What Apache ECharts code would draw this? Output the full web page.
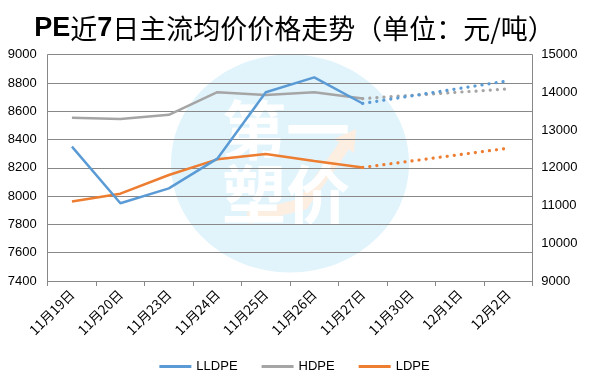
<!DOCTYPE html>
<html><head><meta charset="utf-8">
<script src="https://cdn.jsdelivr.net/npm/echarts@6/dist/echarts.min.js"></script>
<style>html,body{margin:0;padding:0;background:#fff}#c{width:589px;height:374px}</style>
</head><body><div id="c"></div>
<script>
var categories = ['11月19日','11月20日','11月23日','11月24日','11月25日','11月26日','11月27日','11月30日','12月1日','12月2日'];
var lldpe = [8350, 7950, 8055, 8265, 8735, 8840, 8655, null, null, null];
var hdpe  = [8555, 8545, 8575, 8735, 8715, 8735, 8690, null, null, null];
var ldpe  = [11110, 11315, 11810, 12225, 12365, 12180, 12010, null, null, null];
var lldpeTrend = [null, null, null, null, null, null, 8655, null, null, 8815];
var hdpeTrend  = [null, null, null, null, null, null, 8690, null, null, 8758];
var ldpeTrend  = [null, null, null, null, null, null, 12010, null, null, 12520];
var leftTicks = {min: 7400, max: 9000, interval: 200};
var rightTicks = {min: 9000, max: 15000, interval: 1000};

var chart = echarts.init(document.getElementById('c'));
var axisFont = {color:'#000', fontSize:13, fontFamily:'Liberation Sans', formatter:function(v){return String(v);}};
var dotted = [0.1, 7];
chart.setOption({
  animation:false,
  title:{
    text:'{b|PE}{n|近}{b|7}{n|日主流均价价格走势（单位：元/吨）}',
    left:'center', top:10,
    textStyle:{
      rich:{
        b:{fontSize:27, fontWeight:'bold', color:'#000', fontFamily:'Liberation Sans'},
        n:{fontSize:27, fontWeight:'normal', color:'#000', fontFamily:'Noto Sans CJK SC'}
      }
    }
  },
  graphic:[
    {type:'ellipse', z:-10, silent:true, shape:{cx:290, cy:163.5, rx:119, ry:109}, style:{fill:'#e1f4fc'}},
    {type:'polyline', z:-9, silent:true, shape:{points:[[248,218],[303,204],[344,146]]}, style:{stroke:'#fdeee2', lineWidth:12, fill:null}},
    {type:'polygon', z:-9, silent:true, shape:{points:[[356,129],[334,139],[354,153]]}, style:{fill:'#fdeee2'}},
    {type:'text', z:-8, silent:true, left:222, top:98, style:{text:'第一\n塑价', fontSize:64, lineHeight:64, fontWeight:'bold', fill:'#ffffff', fontFamily:'Noto Sans CJK SC'}}
  ],
  grid:{left:47.7, right:56.7, top:54.7, bottom:93, containLabel:false},
  legend:{
    data:['LLDPE','HDPE','LDPE'],
    top:355, left:'center', itemGap:24,
    icon:'rect', itemWidth:32, itemHeight:3,
    textStyle:{color:'#000', fontSize:13, fontFamily:'Liberation Sans'}
  },
  xAxis:{
    type:'category', data:categories, boundaryGap:true,
    axisLine:{lineStyle:{color:'#888', width:1}},
    axisTick:{show:true, length:5, lineStyle:{color:'#888'}},
    axisLabel:{rotate:45, interval:0, margin:11, color:'#000', fontSize:13.5, fontFamily:'Noto Sans CJK SC'}
  },
  yAxis:[
    {type:'value', min:leftTicks.min, max:leftTicks.max, interval:leftTicks.interval, position:'left',
     axisLine:{show:true, lineStyle:{color:'#888'}}, axisTick:{show:false},
     splitLine:{show:true, lineStyle:{color:'#888', width:1}},
     axisLabel:Object.assign({margin:11}, axisFont)},
    {type:'value', min:rightTicks.min, max:rightTicks.max, interval:rightTicks.interval, position:'right',
     axisLine:{show:true, lineStyle:{color:'#888'}}, axisTick:{show:false},
     splitLine:{show:false},
     axisLabel:Object.assign({margin:9}, axisFont)}
  ],
  series:[
    {name:'LLDPE', type:'line', data:lldpe, yAxisIndex:0, showSymbol:false, symbol:'none', z:3,
     color:'#5b9bd5', lineStyle:{color:'#5b9bd5', width:2.5}},
    {name:'HDPE', type:'line', data:hdpe, yAxisIndex:0, showSymbol:false, symbol:'none', z:2,
     color:'#a5a5a5', lineStyle:{color:'#a5a5a5', width:2.5}},
    {name:'LDPE', type:'line', data:ldpe, yAxisIndex:1, showSymbol:false, symbol:'none', z:2,
     color:'#ed7d31', lineStyle:{color:'#ed7d31', width:2.5}},
    {name:'LLDPE趋势', type:'line', data:lldpeTrend, yAxisIndex:0, connectNulls:true, symbol:'none', z:3,
     lineStyle:{color:'#5b9bd5', width:3.2, type:dotted, cap:'round'}},
    {name:'HDPE趋势', type:'line', data:hdpeTrend, yAxisIndex:0, connectNulls:true, symbol:'none', z:2,
     lineStyle:{color:'#a5a5a5', width:3.2, type:dotted, cap:'round'}},
    {name:'LDPE趋势', type:'line', data:ldpeTrend, yAxisIndex:1, connectNulls:true, symbol:'none', z:2,
     lineStyle:{color:'#ed7d31', width:3.2, type:dotted, cap:'round'}}
  ]
});
</script></body></html>
